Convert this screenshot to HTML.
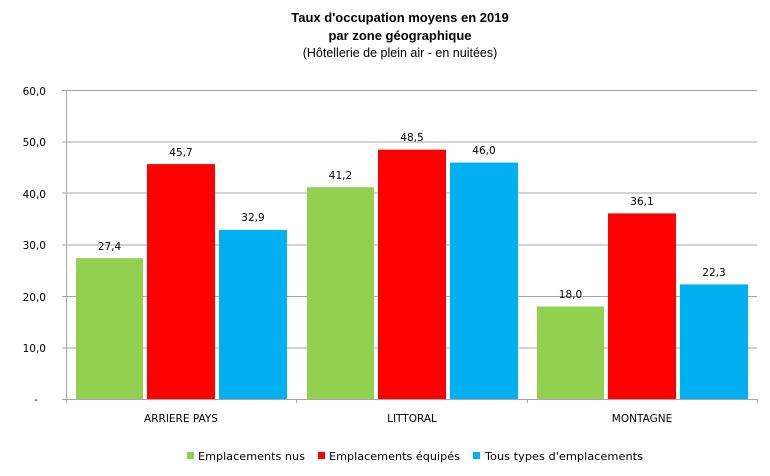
<!DOCTYPE html><html><head><style>body{margin:0;background:#fff}</style></head><body>
<svg width="770" height="471" xmlns="http://www.w3.org/2000/svg" font-family="Liberation Sans, sans-serif">
<rect width="770" height="471" fill="#fff"/>
<text x="400" y="22" font-size="13" font-weight="bold" text-anchor="middle">Taux d'occupation moyens  en 2019</text>
<text x="400" y="40" font-size="13" font-weight="bold" text-anchor="middle">par zone géographique</text>
<text x="400" y="57" font-size="12.5" text-anchor="middle">(Hôtellerie de plein air - en nuitées)</text>
<g stroke="#a6a6a6" stroke-width="1">
<line x1="62" y1="90.5" x2="757" y2="90.5"/><line x1="62" y1="142" x2="757" y2="142"/><line x1="62" y1="193" x2="757" y2="193"/><line x1="62" y1="245" x2="757" y2="245"/><line x1="62" y1="296.5" x2="757" y2="296.5"/><line x1="62" y1="348" x2="757" y2="348"/>
<line x1="66.5" y1="90" x2="66.5" y2="403"/><line x1="62" y1="399.5" x2="757" y2="399.5"/>
<line x1="296.5" y1="399" x2="296.5" y2="403"/><line x1="527.5" y1="399" x2="527.5" y2="403"/><line x1="757.5" y1="399" x2="757.5" y2="403"/>
</g>
<g font-family="DejaVu Sans, sans-serif">
<g font-size="10.5" text-anchor="end" fill="#000">
<text x="46" y="95">60,0</text><text x="46" y="146">50,0</text><text x="46" y="198">40,0</text><text x="46" y="249">30,0</text><text x="46" y="301">20,0</text><text x="46" y="352">10,0</text><text x="38" y="403">-</text>
</g>
<g>
<rect x="76" y="258.2" width="67" height="140.8" fill="#92d050"/>
<rect x="147" y="164.1" width="68" height="234.9" fill="#ff0000"/>
<rect x="219" y="229.9" width="68" height="169.1" fill="#00b0f0"/>
<rect x="307" y="187.2" width="67" height="211.8" fill="#92d050"/>
<rect x="378" y="149.7" width="68" height="249.3" fill="#ff0000"/>
<rect x="450" y="162.6" width="68" height="236.4" fill="#00b0f0"/>
<rect x="537" y="306.5" width="67" height="92.5" fill="#92d050"/>
<rect x="608" y="213.4" width="68" height="185.6" fill="#ff0000"/>
<rect x="680" y="284.4" width="68" height="114.6" fill="#00b0f0"/>
</g>
<g font-size="10.5" text-anchor="middle">
<text x="109.5" y="250">27,4</text><text x="181" y="156">45,7</text><text x="253" y="221">32,9</text>
<text x="340.5" y="179">41,2</text><text x="412" y="141">48,5</text><text x="484" y="154">46,0</text>
<text x="570.5" y="298">18,0</text><text x="642" y="205">36,1</text><text x="714" y="276">22,3</text>
<text x="181" y="422">ARRIERE PAYS</text><text x="412" y="422">LITTORAL</text><text x="642" y="422">MONTAGNE</text>
</g>
<g font-size="11">
<rect x="187" y="452" width="7" height="7" fill="#92d050"/><text x="198" y="460" textLength="107" lengthAdjust="spacingAndGlyphs">Emplacements nus</text>
<rect x="318" y="452" width="7" height="7" fill="#ff0000"/><text x="329" y="460" textLength="131" lengthAdjust="spacingAndGlyphs">Emplacements équipés</text>
<rect x="473" y="452" width="7" height="7" fill="#00b0f0"/><text x="485" y="460" textLength="158" lengthAdjust="spacingAndGlyphs">Tous types d'emplacements</text>
</g>
</g>
</svg>
</body></html>
